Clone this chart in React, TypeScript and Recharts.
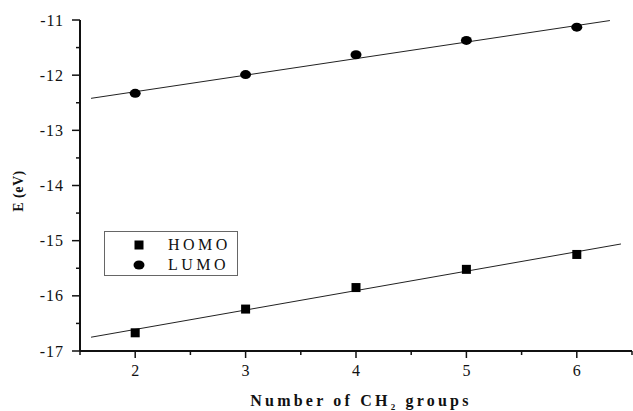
import {
  ScatterChart,
  Scatter,
  XAxis,
  YAxis,
  Legend,
  Label,
} from 'recharts';

// valores
const groups = [2, 3, 4, 5, 6];
const homo = [-16.67, -16.24, -15.85, -15.52, -15.25];
const lumo = [-12.33, -11.99, -11.63, -11.37, -11.13];

// extremos de las rectas de ajuste
const homoFitX = [1.6, 6.4];
const homoFitY = [-16.75, -15.06];
const lumoFitX = [1.6, 6.3];
const lumoFitY = [-12.42, -11.01];

const xTicks = [1.5, 2, 2.5, 3, 3.5, 4, 4.5, 5, 5.5, 6, 6.5];
const yTicks = [-17, -16.5, -16, -15.5, -15, -14.5, -14, -13.5, -13, -12.5, -12, -11.5, -11];

const FONT = '"Liberation Serif", "Times New Roman", Times, serif';
const INK = '#111';

const toPts = (xs: number[], ys: number[]) => xs.map((x, i) => ({ x, y: ys[i] }));

const homoData = toPts(groups, homo);
const lumoData = toPts(groups, lumo);
const homoFit = toPts(homoFitX, homoFitY);
const lumoFit = toPts(lumoFitX, lumoFitY);

const Square = (p: any) => (
  <rect x={p.cx - 4.5} y={p.cy - 4.5} width={9} height={9} fill="#000" />
);
const Dot = (p: any) => <ellipse cx={p.cx} cy={p.cy} rx={5.5} ry={4.5} fill="#000" />;
const Nothing = () => <g />;

const YTick = (p: any) => {
  const v = p.payload.value;
  const major = Number.isInteger(v);
  return (
    <g>
      <line x1={p.x - (major ? 8 : 4)} x2={p.x} y1={p.y} y2={p.y} stroke={INK} strokeWidth={1.5} />
      {major && (
        <text x={p.x - 16} y={p.y} dy="0.35em" textAnchor="end" style={{ fontFamily: FONT, fontSize: 16, letterSpacing: 1 }} fill={INK}>
          {v}
        </text>
      )}
    </g>
  );
};

const XTick = (p: any) => {
  const v = p.payload.value;
  const major = Number.isInteger(v);
  return (
    <g>
      <line x1={p.x} x2={p.x} y1={p.y} y2={p.y + (major ? 7 : 4)} stroke={INK} strokeWidth={1.5} />
      {major && (
        <text x={p.x} y={p.y + 25} textAnchor="middle" style={{ fontFamily: FONT, fontSize: 16 }} fill={INK}>
          {v}
        </text>
      )}
    </g>
  );
};

const LegendBox = () => (
  <div
    style={{
      position: 'relative',
      border: '1px solid #666',
      width: 134,
      height: 45,
      boxSizing: 'border-box',
      fontFamily: FONT,
      fontSize: 16,
      letterSpacing: 3.5,
      color: INK,
      background: '#fff',
    }}
  >
    {[
      { name: 'HOMO', shape: 'square' },
      { name: 'LUMO', shape: 'circle' },
    ].map((it, i) => (
      <div key={it.name} style={{ position: 'absolute', left: 0, top: 3 + i * 20, height: 20, display: 'flex', alignItems: 'center' }}>
        <svg width={60} height={20}>
          {it.shape === 'square' ? (
            <rect x={29.5} y={5.5} width={9} height={9} fill="#000" />
          ) : (
            <ellipse cx={34} cy={10} rx={5.5} ry={4.5} fill="#000" />
          )}
        </svg>
        <span style={{ marginLeft: 3 }}>{it.name}</span>
      </div>
    ))}
  </div>
);

export default function App() {
  return (
    <div style={{ position: 'absolute', left: 0, top: 0, background: '#fff' }}>
      <ScatterChart width={633} height={411} margin={{ top: 20, right: 1, bottom: 0, left: 0 }}>
        <XAxis
          type="number"
          dataKey="x"
          domain={[1.5, 6.5]}
          ticks={xTicks}
          interval={0}
          height={60}
          tickSize={0}
          tickMargin={0}
          tickLine={false}
          tick={<XTick />}
          axisLine={{ stroke: INK, strokeWidth: 2 }}
          allowDataOverflow
        >
          <Label
            content={(props: any) => {
              const vb = props.viewBox;
              return (
                <text
                  x={vb.x + vb.width / 2 + 5}
                  y={vb.y + 55}
                  textAnchor="middle"
                  style={{ fontFamily: FONT, fontWeight: 'bold', fontSize: 16, letterSpacing: 3.2 }}
                  fill={INK}
                >
                  Number of CH
                  <tspan style={{ fontSize: 9 }} dy={4}>2</tspan>
                  <tspan dy={-4}> groups</tspan>
                </text>
              );
            }}
          />
        </XAxis>
        <YAxis
          type="number"
          dataKey="y"
          domain={[-17, -11]}
          ticks={yTicks}
          interval={0}
          width={80}
          tickSize={0}
          tickMargin={0}
          tickLine={false}
          tick={<YTick />}
          axisLine={{ stroke: INK, strokeWidth: 2 }}
          allowDataOverflow
        >
          <Label
            content={() => {
              const cx = 18;
              const cy = 191;
              return (
                <text
                  x={cx}
                  y={cy}
                  transform={`rotate(-90 ${cx} ${cy})`}
                  dy="0.35em"
                  textAnchor="middle"
                  style={{ fontFamily: FONT, fontWeight: 'bold', fontSize: 14, letterSpacing: 0.5 }}
                  fill={INK}
                >
                  E (eV)
                </text>
              );
            }}
          />
        </YAxis>
        <Legend
          layout="vertical"
          align="center"
          verticalAlign="middle"
          wrapperStyle={{ left: 104, top: 231, width: 134, height: 45 }}
          content={() => <LegendBox />}
        />
        <Scatter name="HOMO fit" data={homoFit} line={{ stroke: '#222', strokeWidth: 1 }} shape={<Nothing />} legendType="none" isAnimationActive={false} />
        <Scatter name="LUMO fit" data={lumoFit} line={{ stroke: '#222', strokeWidth: 1 }} shape={<Nothing />} legendType="none" isAnimationActive={false} />
        <Scatter name="HOMO" data={homoData} shape={<Square />} isAnimationActive={false} />
        <Scatter name="LUMO" data={lumoData} shape={<Dot />} isAnimationActive={false} />
      </ScatterChart>
    </div>
  );
}
